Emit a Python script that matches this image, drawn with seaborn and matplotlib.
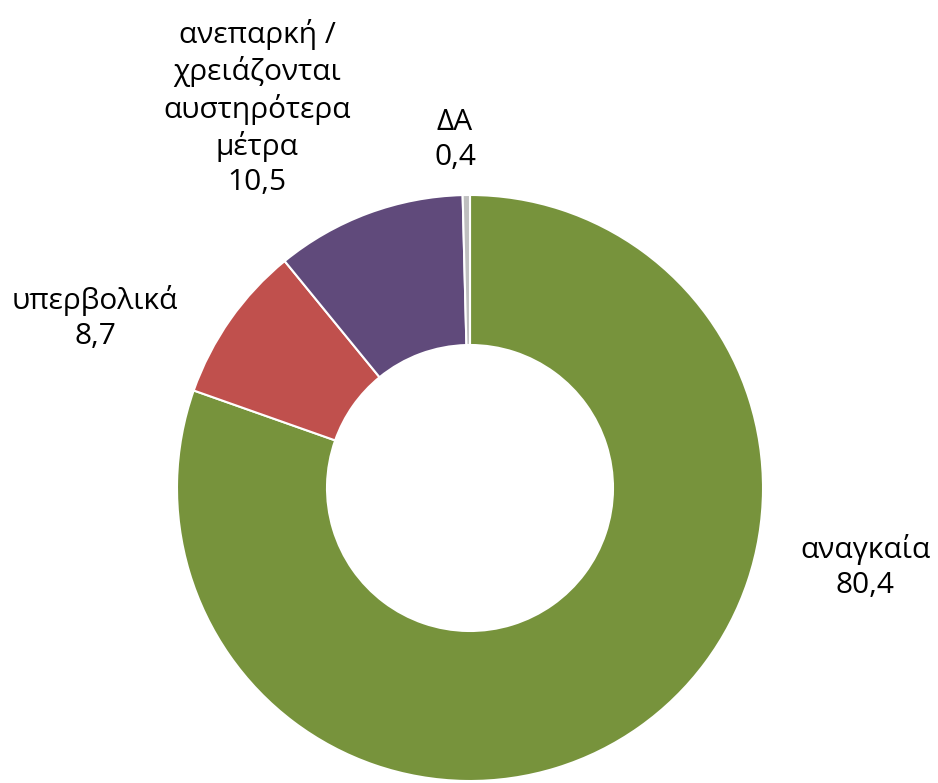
import matplotlib
matplotlib.use("Agg")
import matplotlib.pyplot as plt
import seaborn as sns

# Data
labels = ["αναγκαία", "υπερβολικά", "ανεπαρκή /\nχρειάζονται\nαυστηρότερα\nμέτρα", "ΔΑ"]
values = [80.4, 8.7, 10.5, 0.4]
colors = ["#77933C", "#C0504D", "#604A7B", "#BFBFBF"]

sns.set_theme(style="white")
plt.rcParams['font.family'] = ['Open Sans', 'DejaVu Sans']

fig = plt.figure(figsize=(9.38, 7.83), dpi=100)
ax = fig.add_axes([0, 0, 1, 1])

ax.pie(values, colors=colors, startangle=90, counterclock=False,
       center=(470, 295), radius=293,
       wedgeprops=dict(width=150, edgecolor='white', linewidth=1.5))

# pie() resets the limits, so set them afterwards (1 unit = 1 pixel)
ax.set_xlim(0, 938)
ax.set_ylim(0, 783)
ax.set_aspect('equal')
ax.axis('off')

# Labels
label_pos = [(865, 216), (95, 465), (257, 675), (455, 643)]
for lab, val, (x, y) in zip(labels, values, label_pos):
    txt = f"{lab}\n{val:.1f}".replace('.', ',')
    ax.text(x, y, txt, ha='center', va='center', fontsize=21.5,
            color='black', linespacing=1.27)

plt.savefig('out.png', dpi=100)
